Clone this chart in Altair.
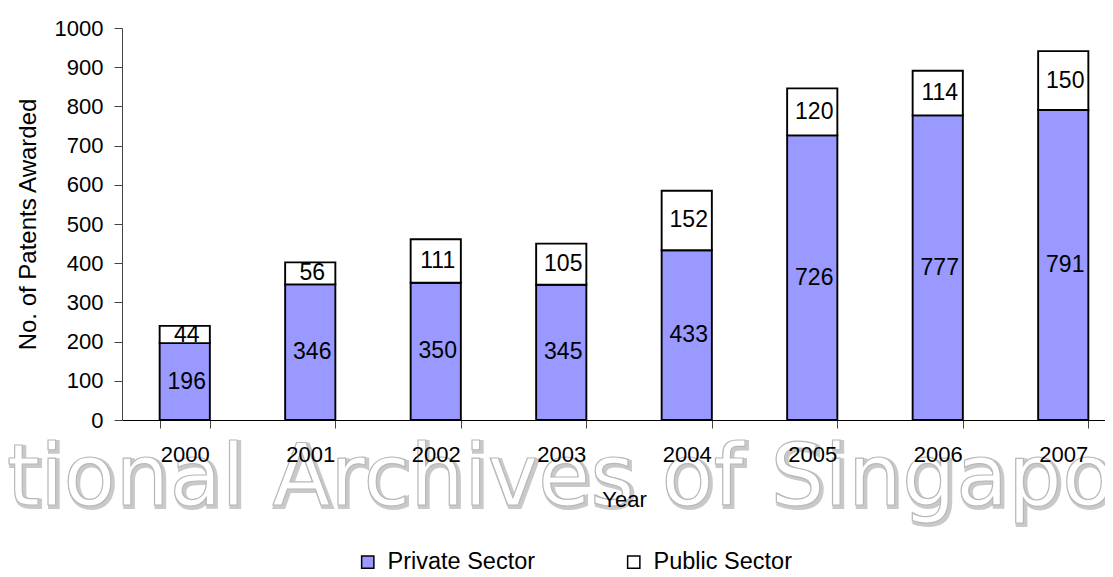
import altair as alt
import pandas as pd

years = ["2000", "2001", "2002", "2003", "2004", "2005", "2006", "2007"]
private = [196, 346, 350, 345, 433, 726, 777, 791]
public = [44, 56, 111, 105, 152, 120, 114, 150]
sectors = ["Private Sector", "Public Sector"]
colors = ["#9999FF", "#FFFFFF"]
ytick_values = [0, 100, 200, 300, 400, 500, 600, 700, 800, 900, 1000]
watermark = ["National Archives of Singapore"]

rows = []
for y, pv, pb in zip(years, private, public):
    rows.append({"year": y, "sector": sectors[0], "value": pv, "order": 0,
                 "mid": pv / 2})
    rows.append({"year": y, "sector": sectors[1], "value": pb, "order": 1,
                 "mid": pv + pb / 2})
df = pd.DataFrame(rows)
wm = pd.DataFrame({"t": watermark})

FONT = "Liberation Sans"

xscale = alt.Scale(domain=years, range=[0, 1004], paddingInner=0.6, paddingOuter=0.3)
yscale = alt.Scale(domain=[0, 1000], nice=False)

xaxis = alt.Axis(title="Year", labelAngle=0, tickBand="extent", tickSize=8,
                 labelPadding=16, labelFontSize=22, labelFont=FONT,
                 titleFontSize=22, titleFont=FONT, titleFontWeight="normal",
                 titlePadding=24, domainColor="black", tickColor="#444444",
                 labelColor="black", titleColor="black", zindex=1, grid=False)
yaxis = alt.Axis(title="No. of Patents Awarded", values=ytick_values, tickCount=20,
                 format="d", labelOverlap=False,
                 tickSize=8, labelPadding=11, labelFontSize=22, labelFont=FONT,
                 titleFontSize=24, titleFont=FONT, titleFontWeight="normal",
                 titlePadding=14, domainColor="#444444", tickColor="#444444",
                 labelColor="black", titleColor="black", zindex=1, grid=False)

bars = alt.Chart(df).mark_bar(stroke="black", strokeWidth=1.9).encode(
    x=alt.X("year:N", scale=xscale, axis=xaxis, sort=years),
    y=alt.Y("value:Q", stack="zero", scale=yscale, axis=yaxis),
    color=alt.Color("sector:N", scale=alt.Scale(domain=sectors, range=colors),
                    legend=alt.Legend(orient="none", legendX=234, legendY=522,
                                      direction="horizontal", title=None,
                                      symbolType="square", symbolSize=150,
                                      symbolStrokeColor="black", symbolStrokeWidth=1.5,
                                      labelFontSize=23.5, labelFont=FONT, labelColor="black",
                                      labelOffset=8, columnPadding=86, padding=0)),
    order=alt.Order("order:Q"),
)

labels = alt.Chart(df).mark_text(fontSize=23, font=FONT, color="black", dx=2).encode(
    x=alt.X("year:N", scale=xscale, sort=years, axis=xaxis),
    y=alt.Y("mid:Q", scale=yscale, axis=yaxis),
    text=alt.Text("value:Q"),
)

wm_shadow = alt.Chart(wm).mark_text(
    font="DejaVu Sans", fontSize=85, align="left", baseline="alphabetic",
    fill="#7a7a7a", stroke="#7a7a7a", strokeWidth=4, opacity=0.4, dx=2, dy=2
).encode(x=alt.value(-231), y=alt.value(477), text="t:N")

wm_main = alt.Chart(wm).mark_text(
    font="DejaVu Sans", fontSize=85, align="left", baseline="alphabetic",
    fill="white", stroke="#b8b8b8", strokeWidth=1.2
).encode(x=alt.value(-231), y=alt.value(477), text="t:N")

chart = alt.layer(wm_shadow, wm_main, bars, labels).properties(
    width=983, height=392, background="white",
    autosize=alt.AutoSizeParams(type="none"),
    padding={"left": 114, "top": 20, "right": 0, "bottom": 149},
).configure_view(stroke=None)

chart.save("out.html", embed_options={"renderer": "svg", "actions": False})
